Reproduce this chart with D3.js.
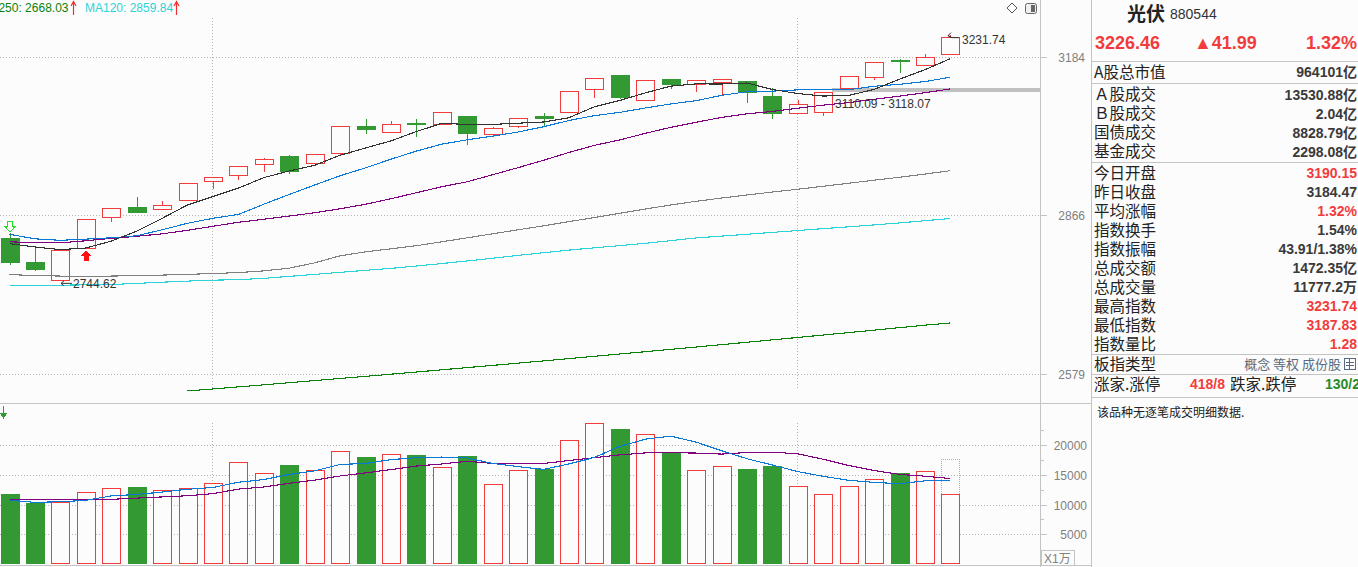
<!DOCTYPE html>
<html><head><meta charset="utf-8">
<script src="https://cdn.jsdelivr.net/npm/d3@7"></script>
<style>
html,body{margin:0;padding:0;background:#fcfcfc;overflow:hidden}
svg{display:block}
</style></head><body>
<svg id="chart" width="1358" height="567"></svg>
<script>
// ---------------- DATA ----------------
const openP  = [2823.0,2777.7,2745.9,2805.0,2863.5,2881.3,2878.0,2896.1,2933.0,2944.7,2964.4,2980.8,2968.3,2986.2,3041.0,3028.2,3047.6,3044.4,3061.3,3025.4,3041.6,3061.3,3070.0,3116.2,3146.0,3093.4,3137.6,3126.6,3130.7,3133.4,3102.3,3068.0,3070.0,3118.2,3142.4,3176.9,3166.4,3190.15];
const highP  = [2832.4,2808.0,2801.3,2859.7,2880.7,2900.6,2892.8,2929.1,2940.8,2962.4,2976.9,2982.8,2984.8,3040.4,3054.5,3051.1,3055.1,3068.8,3061.3,3038.9,3056.6,3068.0,3112.0,3139.1,3146.0,3134.9,3137.6,3135.5,3137.6,3133.4,3118.2,3093.4,3110.0,3143.9,3173.3,3179.0,3189.6,3231.74];
const lowP   = [2774.0,2762.9,2744.62,2805.0,2853.2,2872.0,2878.0,2896.1,2916.6,2933.6,2949.8,2947.9,2966.5,2980.8,3027.4,3028.2,3021.4,3044.4,3005.3,3018.2,3037.5,3043.6,3070.0,3097.6,3098.8,3093.4,3118.2,3111.2,3104.4,3090.6,3057.8,3068.0,3061.9,3118.2,3134.9,3152.9,3166.4,3187.83];
const closeP = [2778.3,2765.3,2801.3,2859.7,2880.7,2872.3,2886.5,2929.1,2940.8,2962.4,2974.3,2951.8,2984.8,3040.4,3034.9,3044.4,3045.6,3068.8,3027.4,3036.3,3056.6,3057.8,3112.0,3139.1,3100.9,3134.9,3127.8,3135.5,3137.6,3111.2,3068.0,3085.2,3110.0,3143.9,3173.3,3174.8,3184.47,3226.46];
const volume = [11790,10320,10440,12070,12750,12970,12410,12750,13590,17130,15270,16670,15780,18980,18020,18470,18360,16280,18190,13420,15780,16050,20830,23690,22730,21840,18640,15780,16450,16000,16500,13140,11740,13140,14260,15320,15610,11777.2];
const projectedVolume = 17680;

const ma5   = [2812.5,2806.2,2801.3,2804.3,2817.1,2835.9,2860.1,2885.7,2901.9,2918.2,2938.6,2951.7,2962.8,2982.7,2997.2,3011.3,3030.0,3046.8,3044.2,3044.5,3046.9,3049.4,3058.0,3080.4,3093.3,3108.9,3122.9,3127.6,3127.3,3129.4,3116.0,3107.5,3102.4,3103.7,3116.1,3137.4,3157.3,3180.6];
const ma10  = [2830.0,2821.5,2818.7,2820.9,2823.4,2827.2,2838.5,2850.8,2860.3,2867.6,2887.2,2905.9,2924.2,2942.3,2957.7,2974.9,2990.9,3004.8,3013.5,3020.9,3029.1,3039.7,3052.4,3062.3,3068.9,3077.9,3086.2,3092.8,3103.9,3111.3,3112.5,3115.2,3115.0,3115.5,3122.7,3126.7,3132.4,3141.5];
const ma20  = [2815.9,2814.4,2814.0,2817.8,2822.4,2826.2,2830.9,2837.5,2845.1,2852.7,2858.4,2864.5,2870.8,2878.4,2887.1,2897.7,2909.3,2920.9,2930.6,2944.3,2958.2,2972.8,2988.3,3002.3,3013.3,3026.4,3038.5,3048.8,3058.7,3066.1,3070.8,3077.5,3083.7,3088.9,3095.8,3102.3,3109.3,3117.2];
const ma60  = [2755.2,2753.4,2752.5,2752.3,2752.5,2753.2,2754.3,2755.6,2757.1,2758.9,2762.0,2767.0,2776.8,2789.8,2797.2,2802.8,2808.6,2815.9,2823.4,2830.9,2838.5,2846.0,2854.0,2861.6,2869.8,2877.9,2885.7,2892.8,2899.0,2905.0,2910.6,2916.0,2921.9,2927.7,2933.6,2939.4,2945.7,2952.2];
const ma120 = [2735.5,2735.5,2735.9,2736.4,2737.0,2739.1,2741.3,2743.3,2745.0,2745.9,2748.3,2751.9,2755.6,2759.3,2763.0,2766.6,2770.9,2775.5,2780.3,2785.3,2790.7,2795.5,2800.4,2804.7,2808.8,2813.1,2818.1,2823.2,2826.6,2830.0,2833.6,2837.1,2840.7,2844.1,2847.7,2851.5,2855.7,2859.84];
const ma250 = [null,null,null,null,null,null,null,2550.0,2553.5,2557.0,2560.5,2564.1,2567.7,2571.3,2575.0,2578.7,2582.4,2586.2,2590.0,2593.8,2597.7,2601.6,2605.5,2609.5,2613.5,2617.5,2621.6,2625.7,2629.8,2634.0,2638.2,2642.4,2646.7,2651.0,2655.3,2659.7,2664.1,2668.03];

const volMa5  = [10727,10390,10491,10727,11474,11710,12128,12590,12894,13770,14230,15082,15688,16766,16944,17584,17922,18022,17864,16944,16406,15944,16854,17954,19816,21028,21546,20536,19088,17742,16674,15574,14766,14104,13756,13520,14014,14021];
const volMa10 = [10900,10900,10900,10850,10900,11100,11300,11500,11850,12622,12970,13605,14139,14830,15357,15907,16502,16855,17315,16944,16995,16933,17438,17909,18380,18717,18745,18695,18521,18779,18851,18560,17651,16596,15749,15097,14794,14394];

const priceTicks  = [3184, 2866, 2579];
const volumeTicks = [20000, 15000, 10000, 5000];
const monthStarts = [8, 31];
const bandLow = 3110.09, bandHigh = 3118.07;
const bandStart = 33;

const legendItems = [["MA250: 2668.03","ma250"],["MA120: 2859.84","ma120"]];

const quoteName = "光伏", quoteCode = "880544";
const quoteHead = ["3226.46","▲41.99","1.32%"];
const statLabels = ["A股总市值","Ａ股成交","Ｂ股成交","国债成交","基金成交","今日开盘","昨日收盘","平均涨幅","指数换手","指数振幅","总成交额","总成交量","最高指数","最低指数","指数量比"];
const statValues = ["964101亿","13530.88亿","2.04亿","8828.79亿","2298.08亿","3190.15","3184.47","1.32%","1.54%","43.91/1.38%","1472.35亿","11777.2万","3231.74","3187.83","1.28"];
const statTone   = ["n","n","n","n","n","up","n","up","n","n","n","n","up","up","up"];
const boardTypes = ["概念","等权","成份股"];
const breadth = ["涨家.涨停","418/8","跌家.跌停","130/2"];
const noteText = "该品种无逐笔成交明细数据.";

// ---------------- LAYOUT ----------------
const n = closeP.length;
const svg = d3.select("#chart");
const BG = "#fcfcfc", RED = "#f23c3c", GREEN = "#339933", GRID = "#b4b4b4", BORDER = "#c4c4c4";
const AX = "#808080";
const NUM = "'Liberation Sans', Arial, 'Noto Sans CJK SC', sans-serif";
const CJK = "'Noto Sans CJK SC', 'Liberation Sans', sans-serif";
const plotRight = 1040, panelLeft = 1091;
const mainTop = 18, mainBottom = 389, volTop = 423, volBottom = 564;

const x  = d3.scaleLinear().domain([0, n - 1]).range([9.5, 950.4]);
const yP = d3.scaleLog().domain([2579, 3184]).range([374, 57]);
const yV = d3.scaleLinear().domain([0, 20000]).range([volBottom, 445.3]);
const cx = i => Math.round(x(i));

svg.append("rect").attr("width",1358).attr("height",567).attr("fill",BG);

svg.append("clipPath").attr("id","cm").append("rect").attr("x",0).attr("y",0).attr("width",plotRight).attr("height",402);

// grid
const grid = svg.append("g").attr("shape-rendering","crispEdges");
priceTicks.forEach(t => {
  const yy = Math.round(yP(t)) + 0.5;
  grid.append("line").attr("x1",0).attr("x2",plotRight).attr("y1",yy).attr("y2",yy)
    .attr("stroke",GRID).attr("stroke-dasharray","1,2");
  grid.append("line").attr("x1",plotRight).attr("x2",plotRight+7).attr("y1",yy).attr("y2",yy).attr("stroke",BORDER);
  svg.append("text").attr("x",1085).attr("y",yy+4.5).attr("text-anchor","end")
    .attr("font-family",NUM).attr("font-size",12).attr("fill",AX).text(t);
});
volumeTicks.forEach(t => {
  const yy = Math.round(yV(t)) + 0.5;
  grid.append("line").attr("x1",0).attr("x2",plotRight).attr("y1",yy).attr("y2",yy)
    .attr("stroke",GRID).attr("stroke-dasharray","1,2");
  grid.append("line").attr("x1",plotRight).attr("x2",plotRight+7).attr("y1",yy).attr("y2",yy).attr("stroke",BORDER);
  const yh = Math.round(yV(t + 2500)) + 0.5;
  grid.append("line").attr("x1",plotRight).attr("x2",plotRight+4).attr("y1",yh).attr("y2",yh).attr("stroke",BORDER);
  svg.append("text").attr("x",1087).attr("y",yy+4.5).attr("text-anchor","end")
    .attr("font-family",NUM).attr("font-size",12).attr("fill",AX).text(t);
});
monthStarts.forEach(i => {
  const xx = cx(i) - 0.5;
  grid.append("line").attr("x1",xx).attr("x2",xx).attr("y1",mainTop).attr("y2",mainBottom)
    .attr("stroke",GRID).attr("stroke-dasharray","1,2");
  grid.append("line").attr("x1",xx).attr("x2",xx).attr("y1",volTop).attr("y2",volBottom)
    .attr("stroke",GRID).attr("stroke-dasharray","1,2");
});

// borders
const bd = svg.append("g").attr("shape-rendering","crispEdges").attr("stroke",BORDER);
bd.append("line").attr("x1",plotRight+0.5).attr("x2",plotRight+0.5).attr("y1",0).attr("y2",567);
bd.append("line").attr("x1",panelLeft+0.5).attr("x2",panelLeft+0.5).attr("y1",0).attr("y2",567);
bd.append("line").attr("x1",0).attr("x2",panelLeft).attr("y1",403.5).attr("y2",403.5);
bd.append("line").attr("x1",0).attr("x2",panelLeft).attr("y1",565.5).attr("y2",565.5);

// band
const band = svg.append("g").attr("shape-rendering","crispEdges");
band.append("rect").attr("x",cx(bandStart)-17).attr("y",yP(bandHigh)).attr("width",plotRight-(cx(bandStart)-17))
  .attr("height",Math.max(2,yP(bandLow)-yP(bandHigh))).attr("fill","#c0c0c0");

// candles
const cg = svg.append("g").attr("shape-rendering","crispEdges").attr("clip-path","url(#cm)");
d3.range(n).forEach(i => {
  const o=openP[i], c=closeP[i], h=highP[i], l=lowP[i];
  const up = c >= o;
  const xc = cx(i), xl = xc - 9;
  const top = Math.round(yP(Math.max(o,c))), bot = Math.round(yP(Math.min(o,c)));
  const yh = Math.round(yP(h)), yl = Math.round(yP(l));
  if (up) {
    if (yh < top) cg.append("line").attr("x1",xc+0.5).attr("x2",xc+0.5).attr("y1",yh).attr("y2",top).attr("stroke",RED);
    if (yl > bot) cg.append("line").attr("x1",xc+0.5).attr("x2",xc+0.5).attr("y1",bot).attr("y2",yl).attr("stroke",RED);
    cg.append("rect").attr("x",xl+0.5).attr("y",top+0.5).attr("width",18).attr("height",Math.max(1,bot-top))
      .attr("fill",BG).attr("stroke",RED);
  } else {
    cg.append("line").attr("x1",xc+0.5).attr("x2",xc+0.5).attr("y1",yh).attr("y2",yl+1).attr("stroke",GREEN);
    cg.append("rect").attr("x",xl).attr("y",top).attr("width",19).attr("height",Math.max(1,bot-top)+1).attr("fill",GREEN);
  }
});

// price MA lines
const maDefs = [[ma250,"#0a820a"],[ma120,"#2cd3d8"],[ma60,"#808080"],[ma20,"#800080"],[ma10,"#0a78d6"],[ma5,"#333333"]];
const lg = svg.append("g").attr("clip-path","url(#cm)");
maDefs.forEach(([arr,col]) => {
  const line = d3.line().defined(d => d != null).x((d,i) => x(i)).y(d => yP(d));
  lg.append("path").datum(arr).attr("d",line).attr("fill","none").attr("stroke",col)
    .attr("stroke-width",1.1).attr("shape-rendering","crispEdges");
});

// band label
svg.append("text").attr("x",cx(bandStart)-14).attr("y",yP(bandLow)+15.5).attr("font-family",NUM).attr("font-size",12)
  .attr("fill","#333").text(bandLow.toFixed(2)+" - "+bandHigh.toFixed(2));

// high / low annotations
const iLow = lowP.indexOf(d3.min(lowP)), iHigh = highP.indexOf(d3.max(highP));
{
  const xl = cx(iLow) + 1, yl = yP(lowP[iLow]);
  svg.append("path").attr("d",`M${xl+3},${yl+0.5} L${xl},${yl+3} L${xl+3},${yl+5.5} M${xl},${yl+3} H${xl+11}`)
    .attr("fill","none").attr("stroke","#333");
  svg.append("text").attr("x",xl+12).attr("y",yl+8).attr("font-family",NUM).attr("font-size",12).attr("fill","#333")
    .text(lowP[iLow].toFixed(2));
  const xh = cx(iHigh) - 2, yh = yP(highP[iHigh]);
  svg.append("path").attr("d",`M${xh+3},${yh-2} L${xh},${yh+1} L${xh+3},${yh+3} M${xh},${yh+1} L${xh+4},${yh+3} H${xh+11}`)
    .attr("fill","none").attr("stroke","#333");
  svg.append("text").attr("x",xh+14).attr("y",yh+9).attr("font-family",NUM).attr("font-size",12).attr("fill","#333")
    .text(highP[iHigh].toFixed(2));
}

// signal arrows
{
  const a = cx(0), yb = Math.round(yP(highP[0])) - 1;
  svg.append("path").attr("d",`M${a-2.5},${yb-11} H${a+2.5} V${yb-6} H${a+5.5} L${a},${yb} L${a-5.5},${yb-6} H${a-2.5} Z`)
    .attr("fill",BG).attr("stroke","#22dd22").attr("shape-rendering","crispEdges");
  const b = cx(3), yt = Math.round(yP(lowP[3])) + 2;
  svg.append("path").attr("d",`M${b},${yt} L${b+5.5},${yt+6} H${b+2.5} V${yt+11} H${b-2.5} V${yt+6} H${b-5.5} Z`)
    .attr("fill","#ff1010").attr("shape-rendering","crispEdges");
}

// legend
{
  const g = svg.append("g").attr("font-family",NUM).attr("font-size",12);
  g.append("text").attr("x",68.5).attr("y",12).attr("text-anchor","end").attr("fill","#0a820a").text(legendItems[0][0]);
  g.append("text").attr("x",85).attr("y",12).attr("fill","#2cd3d8").text(legendItems[1][0]);
  [73.5, 176.5].forEach(ax => {
    g.append("path").attr("d",`M${ax},2 V15 M${ax-2.5},6 L${ax},1.5 L${ax+2.5},6`).attr("stroke","#f03030")
      .attr("stroke-width",1.2).attr("fill","none");
  });
}

// top-right icons
svg.append("path").attr("d","M1012,3 L1017,8 L1012,13 L1007,8 Z").attr("fill","none").attr("stroke","#555");
svg.append("rect").attr("x",1025.5).attr("y",3.5).attr("width",11).attr("height",10).attr("rx",2).attr("fill","#f0f0f0").attr("stroke","#666");
svg.append("rect").attr("x",1031).attr("y",5).attr("width",4).attr("height",7).attr("fill","#666");

// volume
const vg = svg.append("g").attr("shape-rendering","crispEdges");
d3.range(n).forEach(i => {
  const up = closeP[i] >= openP[i];
  const xl = cx(i) - 9, top = Math.round(yV(volume[i]));
  if (up) vg.append("rect").attr("x",xl+0.5).attr("y",top+0.5).attr("width",18).attr("height",volBottom-top-1)
    .attr("fill",BG).attr("stroke",RED);
  else vg.append("rect").attr("x",xl).attr("y",top).attr("width",19).attr("height",volBottom-top).attr("fill",GREEN);
});
{
  const i = n - 1, xl = cx(i) - 9;
  const yt = Math.round(yV(projectedVolume)), yb = Math.round(yV(volume[i]));
  vg.append("path").attr("d",`M${xl+0.5},${yb} V${yt+0.5} H${xl+18.5} V${yb}`).attr("fill","none")
    .attr("stroke","#c8c400").attr("stroke-dasharray","1,1");
}
[[volMa10,"#800080"],[volMa5,"#0a78d6"]].forEach(([arr,col]) => {
  svg.append("path").datum(arr).attr("d",d3.line().x((d,i)=>x(i)).y(d=>yV(d))).attr("fill","none")
    .attr("stroke",col).attr("stroke-width",1.1).attr("shape-rendering","crispEdges");
});
svg.append("path").attr("d","M3.5,406 V414 M0.5,413.5 L3.5,418 L6.5,413.5 Z").attr("stroke",GREEN).attr("fill",GREEN).attr("shape-rendering","crispEdges");
svg.append("rect").attr("x",1041.5).attr("y",550.5).attr("width",33).attr("height",15).attr("fill","none").attr("stroke",BORDER);
svg.append("text").attr("x",1044).attr("y",562.5).attr("font-family",NUM).attr("font-size",12).attr("fill",AX).text("X1万");

// ---------------- RIGHT PANEL ----------------
const rp = svg.append("g");
const PX = 1094, PR = 1357;
rp.append("text").attr("x",1127).attr("y",20.5).attr("font-family",CJK).attr("font-size",19).attr("font-weight","bold").attr("fill","#222").text(quoteName);
rp.append("text").attr("x",1170).attr("y",18.5).attr("font-family",NUM).attr("font-size",14).attr("fill","#333").text(quoteCode);
rp.append("text").attr("x",1095).attr("y",48.5).attr("font-family",NUM).attr("font-size",18).attr("font-weight","bold").attr("fill",RED).text(quoteHead[0]);
rp.append("text").attr("x",1194).attr("y",48.5).attr("font-family",NUM).attr("font-size",18).attr("font-weight","bold").attr("fill",RED).text(quoteHead[1]);
rp.append("text").attr("x",PR).attr("y",48.5).attr("text-anchor","end").attr("font-family",NUM).attr("font-size",18).attr("font-weight","bold").attr("fill",RED).text(quoteHead[2]);

const LFS = 15.5;
const rowY = [72].concat(d3.range(4).map(k => 94.5 + 19.05*k)).concat(d3.range(10).map(k => 173.3 + 19.0*k));
statLabels.forEach((lab, k) => {
  rp.append("text").attr("x",PX).attr("y",rowY[k]+5.5).attr("font-family",CJK).attr("font-size",LFS).attr("fill","#222").text(lab);
  rp.append("text").attr("x",PR).attr("y",rowY[k]+5).attr("text-anchor","end").attr("font-family",NUM).attr("font-size",14)
    .attr("font-weight","bold").attr("fill",statTone[k]==="up"?RED:"#3a3a3a").text(statValues[k]);
});
// board type row
rp.append("text").attr("x",PX).attr("y",364+5.5).attr("font-family",CJK).attr("font-size",LFS).attr("fill","#222").text("板指类型");
rp.append("text").attr("x",1341).attr("y",364+5).attr("text-anchor","end").attr("font-family",CJK).attr("font-size",13)
  .attr("fill","#5a6a80").text(boardTypes.join(" "));
rp.append("rect").attr("x",1344.5).attr("y",358.5).attr("width",11).attr("height",11).attr("fill","none").attr("stroke","#5a6a80");
[362.5,365.5].forEach(yy => rp.append("line").attr("x1",1346).attr("x2",1354).attr("y1",yy).attr("y2",yy).attr("stroke","#5a6a80"));
rp.append("line").attr("x1",1349.5).attr("x2",1349.5).attr("y1",359).attr("y2",369).attr("stroke","#5a6a80");
// breadth row
rp.append("text").attr("x",PX).attr("y",384.3+5.5).attr("font-family",CJK).attr("font-size",LFS).attr("fill","#222").text(breadth[0]);
rp.append("text").attr("x",1190).attr("y",384.3+5).attr("font-family",NUM).attr("font-size",14).attr("font-weight","bold").attr("fill",RED).text(breadth[1]);
rp.append("text").attr("x",1230).attr("y",384.3+5.5).attr("font-family",CJK).attr("font-size",LFS).attr("fill","#222").text(breadth[2]);
rp.append("text").attr("x",1325).attr("y",384.3+5).attr("font-family",NUM).attr("font-size",14).attr("font-weight","bold").attr("fill","#2a8a2a").text(breadth[3]);
rp.append("text").attr("x",1097).attr("y",412.3+4.5).attr("font-family",CJK).attr("font-size",12).attr("fill","#222").text(noteText);

const sep = svg.append("g").attr("shape-rendering","crispEdges").attr("stroke",BORDER);
[61.5, 83.5, 162.5, 354.5, 374.5, 397.5].forEach(yy => sep.append("line").attr("x1",panelLeft).attr("x2",1358).attr("y1",yy).attr("y2",yy));
</script>
</body></html>
